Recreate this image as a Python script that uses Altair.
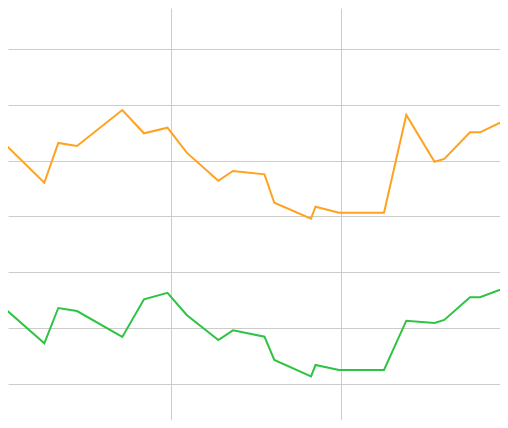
import altair as alt
import pandas as pd

# x positions (shared by both series)
x_vals = [-0.04, 2.565, 3.388, 4.488, 7.153, 8.429, 9.812, 10.941, 12.8, 13.665,
          15.518, 16.094, 18.253, 18.518, 19.9, 22.547, 23.859, 25.518, 26.094,
          27.606, 28.194, 29.329, 30.0]

orange_vals = [53.85, 46.06, 53.19, 52.65, 59.11, 54.93, 55.93, 51.45, 46.42, 48.16,
               47.57, 42.47, 39.60, 41.76, 40.68, 40.68, 58.21, 49.83, 50.32,
               55.11, 55.11, 56.78, 56.56]

green_vals = [24.24, 17.25, 23.58, 23.04, 18.38, 25.14, 26.31, 22.32, 17.84, 19.58,
              18.43, 14.25, 11.32, 13.35, 12.45, 12.45, 21.30, 20.89, 21.43,
              25.50, 25.50, 26.81, 26.72]

series_names = ["orange", "green"]
series_colors = ["#ffa21f", "#2ec443"]

x_ticks = [0, 10, 20, 30]
y_ticks = [0, 10, 20, 30, 40, 50, 60, 70]

rows = []
for name, vals in zip(series_names, [orange_vals, green_vals]):
    for i, (xv, yv) in enumerate(zip(x_vals, vals)):
        rows.append({"x": xv, "y": yv, "series": name, "order": i})
df = pd.DataFrame(rows)

chart = (
    alt.Chart(df)
    .mark_line(strokeWidth=2, clip=True)
    .encode(
        x=alt.X("x:Q",
                scale=alt.Scale(domain=[0.4294, 29.3706], nice=False, zero=False),
                axis=alt.Axis(values=x_ticks, grid=True, gridColor="#cccccc",
                              labels=False, ticks=False, domain=False, title=None)),
        y=alt.Y("y:Q",
                scale=alt.Scale(domain=[3.483, 77.411], nice=False, zero=False),
                axis=alt.Axis(values=y_ticks, grid=True, gridColor="#cccccc",
                              labels=False, ticks=False, domain=False, title=None)),
        color=alt.Color("series:N",
                        scale=alt.Scale(domain=series_names, range=series_colors),
                        legend=None),
        order="order:Q",
    )
    .properties(width=492, height=412, padding=0, autosize="none")
    .configure_view(stroke=None)
)

chart.save("out.html", embed_options={"renderer": "svg", "actions": False})
